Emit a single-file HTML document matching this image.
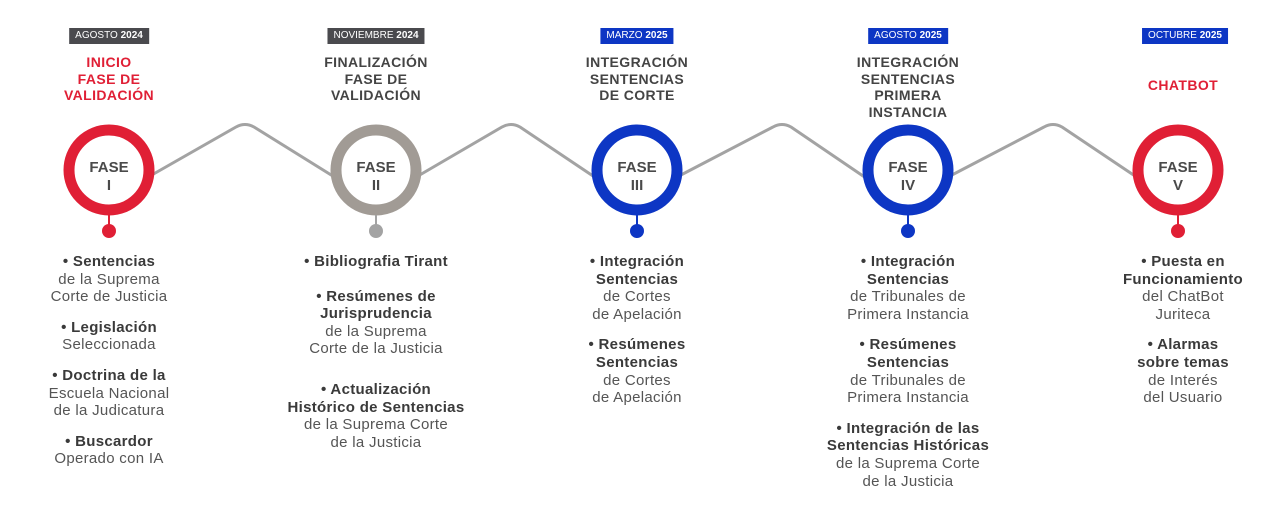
<!DOCTYPE html>
<html><head><meta charset="utf-8"><style>
body{margin:0;background:#fff;width:1285px;height:515px;overflow:hidden;position:relative;font-family:"Liberation Sans",sans-serif}
.d{position:absolute;top:28px;height:16px;line-height:16px;color:#fff;font-size:10px;text-align:center;transform:translateX(-50%);white-space:nowrap;padding:0 6px}
.t{position:absolute;top:54px;width:240px;margin-left:-120px;text-align:center;font-weight:bold;font-size:14px;letter-spacing:0.4px;line-height:16.5px;color:#444}
.b{position:absolute;top:253px;width:260px;margin-left:-130px;text-align:center;font-size:15px;letter-spacing:0.3px;line-height:17.6px;color:#555}
.b p{margin:0 0 13px 0}
.b b{color:#3a3a3a}
</style></head><body>
<svg width="1285" height="515" style="position:absolute;left:0;top:0">
<g fill="none" stroke="#a3a3a3" stroke-width="3" stroke-linejoin="round">
<path d="M150,176 L236,127 Q245,122 254,127 L336,178"/>
<path d="M418,176 L502,127 Q511,122 520,127 L596,178"/>
<path d="M679,176 L773,127 Q782,122 791,127 L866,178"/>
<path d="M950,176 L1044,127 Q1053,122 1062,127 L1138,178"/>
</g>
<g stroke-width="11" fill="#fff">
<circle cx="109" cy="170" r="40" stroke="#e01f35"/>
<circle cx="376" cy="170" r="40" stroke="#a19b95"/>
<circle cx="637" cy="170" r="40" stroke="#0d36c4"/>
<circle cx="908" cy="170" r="40" stroke="#0d36c4"/>
<circle cx="1178" cy="170" r="40" stroke="#e01f35"/>
</g>
<g stroke-width="2">
<line x1="109" y1="215" x2="109" y2="226" stroke="#e01f35"/><circle cx="109" cy="231" r="7" fill="#e01f35" stroke="none"/>
<line x1="376" y1="215" x2="376" y2="226" stroke="#a3a3a3"/><circle cx="376" cy="231" r="7" fill="#a3a3a3" stroke="none"/>
<line x1="637" y1="215" x2="637" y2="226" stroke="#0d36c4"/><circle cx="637" cy="231" r="7" fill="#0d36c4" stroke="none"/>
<line x1="908" y1="215" x2="908" y2="226" stroke="#0d36c4"/><circle cx="908" cy="231" r="7" fill="#0d36c4" stroke="none"/>
<line x1="1178" y1="215" x2="1178" y2="226" stroke="#e01f35"/><circle cx="1178" cy="231" r="7" fill="#e01f35" stroke="none"/>
</g>
<g style="font-family:'Liberation Sans',sans-serif;font-weight:bold;font-size:15px" fill="#4a4a4a" text-anchor="middle">
<text x="109" y="172">FASE</text><text x="109" y="190">I</text>
<text x="376" y="172">FASE</text><text x="376" y="190">II</text>
<text x="637" y="172">FASE</text><text x="637" y="190">III</text>
<text x="908" y="172">FASE</text><text x="908" y="190">IV</text>
<text x="1178" y="172">FASE</text><text x="1178" y="190">V</text>
</g>
</svg>
<div class="d" style="left:109px;background:#4a4a4e">AGOSTO <b>2024</b></div>
<div class="d" style="left:376px;background:#4a4a4e">NOVIEMBRE <b>2024</b></div>
<div class="d" style="left:637px;background:#0d36c4">MARZO <b>2025</b></div>
<div class="d" style="left:908px;background:#0d36c4">AGOSTO <b>2025</b></div>
<div class="d" style="left:1185px;background:#0d36c4">OCTUBRE <b>2025</b></div>
<div class="t" style="left:109px;color:#e01f35">INICIO<br>FASE DE<br>VALIDACIÓN</div>
<div class="t" style="left:376px">FINALIZACIÓN<br>FASE DE<br>VALIDACIÓN</div>
<div class="t" style="left:637px">INTEGRACIÓN<br>SENTENCIAS<br>DE CORTE</div>
<div class="t" style="left:908px">INTEGRACIÓN<br>SENTENCIAS<br>PRIMERA<br>INSTANCIA</div>
<div class="t" style="left:1183px;top:77px;color:#e01f35">CHATBOT</div>
<div class="b" style="left:109px"><p><b>• Sentencias</b><br>de la Suprema<br>Corte de Justicia</p><p><b>• Legislación</b><br>Seleccionada</p><p><b>• Doctrina de la</b><br>Escuela Nacional<br>de la Judicatura</p><p><b>• Buscardor</b><br>Operado con IA</p></div>
<div class="b" style="left:376px"><p><b>• Bibliografia Tirant</b></p><p style="margin-top:17px"><b>• Resúmenes de<br>Jurisprudencia</b><br>de la Suprema<br>Corte de la Justicia</p><p style="margin-top:23px"><b>• Actualización<br>Histórico de Sentencias</b><br>de la Suprema Corte<br>de la Justicia</p></div>
<div class="b" style="left:637px"><p><b>• Integración<br>Sentencias</b><br>de Cortes<br>de Apelación</p><p><b>• Resúmenes<br>Sentencias</b><br>de Cortes<br>de Apelación</p></div>
<div class="b" style="left:908px"><p><b>• Integración<br>Sentencias</b><br>de Tribunales de<br>Primera Instancia</p><p><b>• Resúmenes<br>Sentencias</b><br>de Tribunales de<br>Primera Instancia</p><p><b>• Integración de las<br>Sentencias Históricas</b><br>de la Suprema Corte<br>de la Justicia</p></div>
<div class="b" style="left:1183px"><p><b>• Puesta en<br>Funcionamiento</b><br>del ChatBot<br>Juriteca</p><p><b>• Alarmas<br>sobre temas</b><br>de Interés<br>del Usuario</p></div>
</body></html>
